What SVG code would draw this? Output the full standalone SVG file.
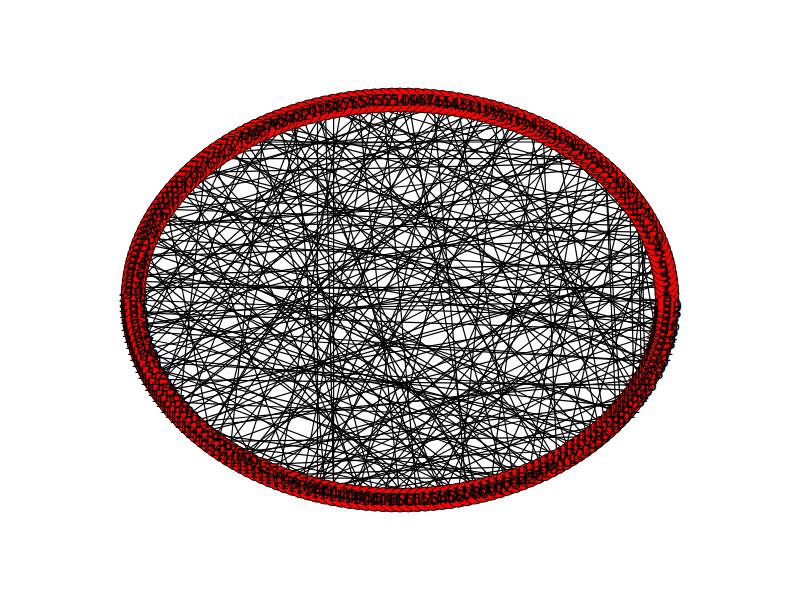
<svg xmlns="http://www.w3.org/2000/svg" width="800" height="600" viewBox="0 0 800 600">
<style>
.e line{stroke:#000;stroke-width:1.2;fill:none}
.n circle{fill:#f00;stroke:#000;stroke-width:1}
.l text{font-family:"DejaVu Sans","Liberation Sans",sans-serif;font-size:16px;fill:#000;text-anchor:middle;dominant-baseline:central}
</style>
<rect width="800" height="600" fill="#fff"/>
<g id="edges" class="e">
<line x1="667" y1="300" x2="134.2" y2="281.2"/>
<line x1="666.9" y1="293.7" x2="341.8" y2="495.2"/>
<line x1="666.5" y1="287.4" x2="333.6" y2="106.3"/>
<line x1="665.8" y1="281.2" x2="189" y2="422.6"/>
<line x1="664.9" y1="274.9" x2="651.2" y2="367.7"/>
<line x1="663.7" y1="268.7" x2="170.2" y2="401.8"/>
<line x1="662.3" y1="262.5" x2="217.2" y2="154.2"/>
<line x1="660.6" y1="256.4" x2="498.3" y2="486"/>
<line x1="658.6" y1="250.3" x2="135.1" y2="325.1"/>
<line x1="656.4" y1="244.2" x2="550.1" y2="134.6"/>
<line x1="653.9" y1="238.2" x2="286.3" y2="481"/>
<line x1="651.2" y1="232.3" x2="155" y2="220.6"/>
<line x1="648.3" y1="226.4" x2="629.8" y2="401.8"/>
<line x1="645" y1="220.6" x2="151.7" y2="373.6"/>
<line x1="641.6" y1="214.8" x2="271.4" y2="124.7"/>
<line x1="637.9" y1="209.2" x2="641.6" y2="385.2"/>
<line x1="634" y1="203.7" x2="374.9" y2="499.1"/>
<line x1="629.8" y1="198.2" x2="134.2" y2="318.8"/>
<line x1="625.4" y1="192.8" x2="563.7" y2="458"/>
<line x1="620.8" y1="187.6" x2="151.7" y2="226.4"/>
<line x1="616" y1="182.4" x2="236.3" y2="458"/>
<line x1="611" y1="177.4" x2="358.2" y2="102.5"/>
<line x1="605.7" y1="172.5" x2="146.1" y2="361.8"/>
<line x1="600.3" y1="167.7" x2="535.9" y2="472.1"/>
<line x1="594.6" y1="163.1" x2="194.3" y2="172.5"/>
<line x1="588.8" y1="158.6" x2="325.5" y2="492.1"/>
<line x1="582.8" y1="154.2" x2="133.1" y2="293.7"/>
<line x1="576.6" y1="150" x2="433.5" y2="498.4"/>
<line x1="570.2" y1="145.9" x2="184" y2="417.6"/>
<line x1="563.7" y1="142" x2="236.3" y2="142"/>
<line x1="556.9" y1="138.2" x2="605.7" y2="427.5"/>
<line x1="550.1" y1="134.6" x2="278.8" y2="478.2"/>
<line x1="543.1" y1="131.1" x2="146.1" y2="238.2"/>
<line x1="535.9" y1="127.9" x2="490.4" y2="488.2"/>
<line x1="528.6" y1="124.7" x2="174.6" y2="407.2"/>
<line x1="521.2" y1="121.8" x2="170.2" y2="198.2"/>
<line x1="513.7" y1="119" x2="309.6" y2="488.2"/>
<line x1="506" y1="116.5" x2="139.4" y2="343.6"/>
<line x1="498.3" y1="114" x2="588.8" y2="441.4"/>
<line x1="490.4" y1="111.8" x2="223.4" y2="450"/>
<line x1="482.5" y1="109.8" x2="141.4" y2="250.3"/>
<line x1="474.5" y1="107.9" x2="383.2" y2="499.6"/>
<line x1="466.4" y1="106.3" x2="133" y2="300"/>
<line x1="458.2" y1="104.8" x2="637.9" y2="390.8"/>
<line x1="450" y1="103.5" x2="264.1" y2="472.1"/>
<line x1="441.8" y1="102.5" x2="179.2" y2="187.6"/>
<line x1="433.5" y1="101.6" x2="466.4" y2="493.7"/>
<line x1="425.1" y1="100.9" x2="158.4" y2="385.2"/>
<line x1="416.8" y1="100.4" x2="665.8" y2="318.8"/>
<line x1="408.4" y1="100.1" x2="205.4" y2="436.9"/>
<line x1="400" y1="100" x2="506" y2="483.5"/>
<line x1="391.6" y1="100.1" x2="143.6" y2="355.8"/>
<line x1="383.2" y1="100.4" x2="416.8" y2="499.6"/>
<line x1="374.9" y1="100.9" x2="133.1" y2="306.3"/>
<line x1="366.5" y1="101.6" x2="660.6" y2="343.6"/>
<line x1="358.2" y1="102.5" x2="243.1" y2="461.8"/>
<line x1="350" y1="103.5" x2="662.3" y2="262.5"/>
<line x1="341.8" y1="104.8" x2="556.9" y2="461.8"/>
<line x1="333.6" y1="106.3" x2="166" y2="396.3"/>
<line x1="325.5" y1="107.9" x2="333.6" y2="493.7"/>
<line x1="317.5" y1="109.8" x2="620.8" y2="187.6"/>
<line x1="309.6" y1="111.8" x2="616" y2="417.6"/>
<line x1="301.7" y1="114" x2="217.2" y2="445.8"/>
<line x1="294" y1="116.5" x2="133.5" y2="287.4"/>
<line x1="286.3" y1="119" x2="474.5" y2="492.1"/>
<line x1="278.8" y1="121.8" x2="136.3" y2="331.3"/>
<line x1="271.4" y1="124.7" x2="656.4" y2="355.8"/>
<line x1="264.1" y1="127.9" x2="648.3" y2="226.4"/>
<line x1="256.9" y1="131.1" x2="358.2" y2="497.5"/>
<line x1="249.9" y1="134.6" x2="162.1" y2="390.8"/>
<line x1="243.1" y1="138.2" x2="588.8" y2="158.6"/>
<line x1="236.3" y1="142" x2="513.7" y2="481"/>
<line x1="229.8" y1="145.9" x2="141.4" y2="349.7"/>
<line x1="223.4" y1="150" x2="648.3" y2="373.6"/>
<line x1="217.2" y1="154.2" x2="521.2" y2="121.8"/>
<line x1="211.2" y1="158.6" x2="366.5" y2="498.4"/>
<line x1="205.4" y1="163.1" x2="179.2" y2="412.4"/>
<line x1="199.7" y1="167.7" x2="666.5" y2="287.4"/>
<line x1="194.3" y1="172.5" x2="570.2" y2="454.1"/>
<line x1="189" y1="177.4" x2="294" y2="483.5"/>
<line x1="184" y1="182.4" x2="450" y2="103.5"/>
<line x1="179.2" y1="187.6" x2="450" y2="496.5"/>
<line x1="174.6" y1="192.8" x2="653.9" y2="238.2"/>
<line x1="170.2" y1="198.2" x2="663.7" y2="331.3"/>
<line x1="166" y1="203.7" x2="211.2" y2="441.4"/>
<line x1="162.1" y1="209.2" x2="600.3" y2="167.7"/>
<line x1="158.4" y1="214.8" x2="600.3" y2="432.3"/>
<line x1="155" y1="220.6" x2="400" y2="500"/>
<line x1="151.7" y1="226.4" x2="506" y2="116.5"/>
<line x1="148.8" y1="232.3" x2="543.1" y2="468.9"/>
<line x1="146.1" y1="238.2" x2="664.9" y2="274.9"/>
<line x1="143.6" y1="244.2" x2="256.9" y2="468.9"/>
<line x1="141.4" y1="250.3" x2="620.8" y2="412.4"/>
<line x1="139.4" y1="256.4" x2="629.8" y2="198.2"/>
<line x1="137.7" y1="262.5" x2="425.1" y2="499.1"/>
<line x1="136.3" y1="268.7" x2="425.1" y2="100.9"/>
<line x1="135.1" y1="274.9" x2="664.9" y2="325.1"/>
<line x1="134.2" y1="281.2" x2="563.7" y2="142"/>
<line x1="133.5" y1="287.4" x2="482.5" y2="490.2"/>
<line x1="133.1" y1="293.7" x2="641.6" y2="214.8"/>
<line x1="133" y1="300" x2="582.8" y2="445.8"/>
<line x1="133.1" y1="306.3" x2="490.4" y2="111.8"/>
<line x1="133.5" y1="312.6" x2="667" y2="300"/>
<line x1="134.2" y1="318.8" x2="528.6" y2="475.3"/>
<line x1="135.1" y1="325.1" x2="383.2" y2="100.4"/>
<line x1="136.3" y1="331.3" x2="653.9" y2="361.8"/>
<line x1="137.7" y1="337.5" x2="576.6" y2="150"/>
<line x1="139.4" y1="343.6" x2="391.6" y2="499.9"/>
<line x1="141.4" y1="349.7" x2="658.6" y2="250.3"/>
<line x1="143.6" y1="355.8" x2="625.4" y2="407.2"/>
<line x1="146.1" y1="361.8" x2="474.5" y2="107.9"/>
<line x1="148.8" y1="367.7" x2="550.1" y2="465.4"/>
<line x1="151.7" y1="373.6" x2="611" y2="177.4"/>
<line x1="155" y1="379.4" x2="458.2" y2="495.2"/>
<line x1="158.4" y1="385.2" x2="325.5" y2="107.9"/>
<line x1="162.1" y1="390.8" x2="666.9" y2="306.3"/>
<line x1="166" y1="396.3" x2="535.9" y2="127.9"/>
<line x1="170.2" y1="401.8" x2="611" y2="422.6"/>
<line x1="174.6" y1="407.2" x2="663.7" y2="268.7"/>
<line x1="179.2" y1="412.4" x2="350" y2="496.5"/>
<line x1="184" y1="417.6" x2="301.7" y2="114"/>
<line x1="189" y1="422.6" x2="645" y2="379.4"/>
<line x1="194.3" y1="427.5" x2="634" y2="203.7"/>
<line x1="199.7" y1="432.3" x2="521.2" y2="478.2"/>
<line x1="205.4" y1="436.9" x2="400" y2="100"/>
<line x1="211.2" y1="441.4" x2="594.6" y2="436.9"/>
<line x1="217.2" y1="445.8" x2="665.8" y2="281.2"/>
<line x1="223.4" y1="450" x2="441.8" y2="497.5"/>
<line x1="229.8" y1="454.1" x2="264.1" y2="127.9"/>
<line x1="236.3" y1="458" x2="658.6" y2="349.7"/>
<line x1="243.1" y1="461.8" x2="570.2" y2="145.9"/>
<line x1="249.9" y1="465.4" x2="576.6" y2="450"/>
<line x1="256.9" y1="468.9" x2="433.5" y2="101.6"/>
<line x1="264.1" y1="472.1" x2="651.2" y2="232.3"/>
<line x1="271.4" y1="475.3" x2="634" y2="396.3"/>
<line x1="278.8" y1="478.2" x2="341.8" y2="104.8"/>
<line x1="286.3" y1="481" x2="666.9" y2="293.7"/>
<line x1="294" y1="483.5" x2="666.5" y2="312.6"/>
<line x1="301.7" y1="486" x2="466.4" y2="106.3"/>
<line x1="309.6" y1="488.2" x2="637.9" y2="209.2"/>
<line x1="317.5" y1="490.2" x2="620.8" y2="412.4"/>
<line x1="325.5" y1="492.1" x2="294" y2="116.5"/>
<line x1="333.6" y1="493.7" x2="656.4" y2="244.2"/>
<line x1="341.8" y1="495.2" x2="556.9" y2="461.8"/>
<line x1="350" y1="496.5" x2="513.7" y2="119"/>
<line x1="358.2" y1="497.5" x2="662.3" y2="337.5"/>
<line x1="366.5" y1="498.4" x2="616" y2="182.4"/>
<line x1="374.9" y1="499.1" x2="278.8" y2="121.8"/>
<line x1="383.2" y1="499.6" x2="660.6" y2="256.4"/>
<line x1="391.6" y1="499.9" x2="641.6" y2="385.2"/>
<line x1="400" y1="500" x2="556.9" y2="138.2"/>
<line x1="408.4" y1="499.9" x2="166" y2="203.7"/>
<line x1="416.8" y1="499.6" x2="645" y2="220.6"/>
<line x1="425.1" y1="499.1" x2="317.5" y2="109.8"/>
<line x1="433.5" y1="498.4" x2="135.1" y2="274.9"/>
<line x1="441.8" y1="497.5" x2="594.6" y2="163.1"/>
<line x1="450" y1="496.5" x2="229.8" y2="145.9"/>
<line x1="458.2" y1="495.2" x2="498.3" y2="114"/>
<line x1="466.4" y1="493.7" x2="137.7" y2="337.5"/>
<line x1="474.5" y1="492.1" x2="408.4" y2="100.1"/>
<line x1="482.5" y1="490.2" x2="148.8" y2="232.3"/>
<line x1="490.4" y1="488.2" x2="625.4" y2="192.8"/>
<line x1="498.3" y1="486" x2="205.4" y2="163.1"/>
<line x1="506" y1="483.5" x2="148.8" y2="367.7"/>
<line x1="513.7" y1="481" x2="458.2" y2="104.8"/>
<line x1="521.2" y1="478.2" x2="139.4" y2="256.4"/>
<line x1="528.6" y1="475.3" x2="582.8" y2="154.2"/>
<line x1="535.9" y1="472.1" x2="189" y2="177.4"/>
<line x1="543.1" y1="468.9" x2="374.9" y2="100.9"/>
<line x1="550.1" y1="465.4" x2="271.4" y2="475.3"/>
<line x1="556.9" y1="461.8" x2="543.1" y2="131.1"/>
<line x1="563.7" y1="458" x2="136.3" y2="268.7"/>
<line x1="570.2" y1="454.1" x2="441.8" y2="102.5"/>
<line x1="576.6" y1="450" x2="162.1" y2="209.2"/>
<line x1="582.8" y1="445.8" x2="651.2" y2="232.3"/>
<line x1="588.8" y1="441.4" x2="309.6" y2="111.8"/>
<line x1="594.6" y1="436.9" x2="133.5" y2="312.6"/>
<line x1="600.3" y1="432.3" x2="528.6" y2="124.7"/>
<line x1="605.7" y1="427.5" x2="256.9" y2="131.1"/>
<line x1="611" y1="422.6" x2="317.5" y2="490.2"/>
<line x1="616" y1="417.6" x2="605.7" y2="172.5"/>
<line x1="620.8" y1="412.4" x2="137.7" y2="262.5"/>
<line x1="625.4" y1="407.2" x2="350" y2="103.5"/>
<line x1="629.8" y1="401.8" x2="229.8" y2="454.1"/>
<line x1="634" y1="396.3" x2="482.5" y2="109.8"/>
<line x1="637.9" y1="390.8" x2="223.4" y2="150"/>
<line x1="641.6" y1="385.2" x2="155" y2="379.4"/>
<line x1="645" y1="379.4" x2="416.8" y2="100.4"/>
<line x1="648.3" y1="373.6" x2="194.3" y2="427.5"/>
<line x1="651.2" y1="367.7" x2="286.3" y2="119"/>
<line x1="653.9" y1="361.8" x2="174.6" y2="192.8"/>
<line x1="656.4" y1="355.8" x2="301.7" y2="486"/>
<line x1="658.6" y1="349.7" x2="634" y2="203.7"/>
<line x1="660.6" y1="343.6" x2="143.6" y2="244.2"/>
<line x1="662.3" y1="337.5" x2="333.6" y2="106.3"/>
<line x1="663.7" y1="331.3" x2="249.9" y2="465.4"/>
<line x1="664.9" y1="325.1" x2="249.9" y2="134.6"/>
<line x1="665.8" y1="318.8" x2="199.7" y2="432.3"/>
<line x1="666.5" y1="312.6" x2="199.7" y2="167.7"/>
<line x1="666.9" y1="306.3" x2="158.4" y2="214.8"/>
<line x1="665.8" y1="281.2" x2="135.1" y2="325.1"/>
<line x1="658.6" y1="250.3" x2="664.9" y2="325.1"/>
<line x1="641.6" y1="214.8" x2="645" y2="379.4"/>
<line x1="629.8" y1="198.2" x2="634" y2="396.3"/>
<line x1="605.7" y1="172.5" x2="620.8" y2="412.4"/>
<line x1="133" y1="300" x2="665.8" y2="318.8"/>
<line x1="133.5" y1="312.6" x2="663.7" y2="331.3"/>
<line x1="133.5" y1="287.4" x2="666.5" y2="287.4"/>
<line x1="135.1" y1="325.1" x2="653.9" y2="361.8"/>
<line x1="135.1" y1="274.9" x2="662.3" y2="262.5"/>
<line x1="229.8" y1="145.9" x2="556.9" y2="138.2"/>
<line x1="211.2" y1="158.6" x2="588.8" y2="158.6"/>
<line x1="243.1" y1="138.2" x2="482.5" y2="490.2"/>
<line x1="317.5" y1="490.2" x2="400" y2="100"/>
<line x1="358.2" y1="497.5" x2="441.8" y2="102.5"/>
<line x1="400" y1="500" x2="358.2" y2="102.5"/>
<line x1="317.5" y1="109.8" x2="317.5" y2="490.2"/>
<line x1="162.1" y1="209.2" x2="648.3" y2="226.4"/>
<line x1="146.1" y1="238.2" x2="588.8" y2="441.4"/>
<line x1="146.1" y1="361.8" x2="637.9" y2="390.8"/>
<line x1="162.1" y1="390.8" x2="616" y2="182.4"/>
<line x1="184" y1="417.6" x2="653.9" y2="238.2"/>
<line x1="243.1" y1="461.8" x2="521.2" y2="121.8"/>
<line x1="278.8" y1="478.2" x2="521.2" y2="478.2"/>
<line x1="271.4" y1="124.7" x2="556.9" y2="461.8"/>
<line x1="301.7" y1="114" x2="441.8" y2="497.5"/>
<line x1="450" y1="103.5" x2="211.2" y2="441.4"/>
<line x1="482.5" y1="109.8" x2="317.5" y2="490.2"/>
<line x1="184" y1="182.4" x2="653.9" y2="361.8"/>
<line x1="151.7" y1="226.4" x2="625.4" y2="192.8"/>
<line x1="139.4" y1="256.4" x2="653.9" y2="238.2"/>
<line x1="133.1" y1="306.3" x2="556.9" y2="461.8"/>
<line x1="137.7" y1="337.5" x2="605.7" y2="427.5"/>
<line x1="151.7" y1="373.6" x2="563.7" y2="142"/>
<line x1="174.6" y1="407.2" x2="513.7" y2="119"/>
<line x1="217.2" y1="445.8" x2="521.2" y2="478.2"/>
<line x1="301.7" y1="486" x2="374.9" y2="100.9"/>
<line x1="333.6" y1="493.7" x2="333.6" y2="106.3"/>
<line x1="458.2" y1="495.2" x2="194.3" y2="172.5"/>
<line x1="528.6" y1="475.3" x2="158.4" y2="214.8"/>
</g>
<g id="nodes" class="n">
<g id="n0"><circle cx="667" cy="300" r="12"/></g>
<g id="n1"><circle cx="666.9" cy="293.7" r="12"/></g>
<g id="n2"><circle cx="666.5" cy="287.4" r="12"/></g>
<g id="n3"><circle cx="665.8" cy="281.2" r="12"/></g>
<g id="n4"><circle cx="664.9" cy="274.9" r="12"/></g>
<g id="n5"><circle cx="663.7" cy="268.7" r="12"/></g>
<g id="n6"><circle cx="662.3" cy="262.5" r="12"/></g>
<g id="n7"><circle cx="660.6" cy="256.4" r="12"/></g>
<g id="n8"><circle cx="658.6" cy="250.3" r="12"/></g>
<g id="n9"><circle cx="656.4" cy="244.2" r="12"/></g>
<g id="n10"><circle cx="653.9" cy="238.2" r="12"/></g>
<g id="n11"><circle cx="651.2" cy="232.3" r="12"/></g>
<g id="n12"><circle cx="648.3" cy="226.4" r="12"/></g>
<g id="n13"><circle cx="645" cy="220.6" r="12"/></g>
<g id="n14"><circle cx="641.6" cy="214.8" r="12"/></g>
<g id="n15"><circle cx="637.9" cy="209.2" r="12"/></g>
<g id="n16"><circle cx="634" cy="203.7" r="12"/></g>
<g id="n17"><circle cx="629.8" cy="198.2" r="12"/></g>
<g id="n18"><circle cx="625.4" cy="192.8" r="12"/></g>
<g id="n19"><circle cx="620.8" cy="187.6" r="12"/></g>
<g id="n20"><circle cx="616" cy="182.4" r="12"/></g>
<g id="n21"><circle cx="611" cy="177.4" r="12"/></g>
<g id="n22"><circle cx="605.7" cy="172.5" r="12"/></g>
<g id="n23"><circle cx="600.3" cy="167.7" r="12"/></g>
<g id="n24"><circle cx="594.6" cy="163.1" r="12"/></g>
<g id="n25"><circle cx="588.8" cy="158.6" r="12"/></g>
<g id="n26"><circle cx="582.8" cy="154.2" r="12"/></g>
<g id="n27"><circle cx="576.6" cy="150" r="12"/></g>
<g id="n28"><circle cx="570.2" cy="145.9" r="12"/></g>
<g id="n29"><circle cx="563.7" cy="142" r="12"/></g>
<g id="n30"><circle cx="556.9" cy="138.2" r="12"/></g>
<g id="n31"><circle cx="550.1" cy="134.6" r="12"/></g>
<g id="n32"><circle cx="543.1" cy="131.1" r="12"/></g>
<g id="n33"><circle cx="535.9" cy="127.9" r="12"/></g>
<g id="n34"><circle cx="528.6" cy="124.7" r="12"/></g>
<g id="n35"><circle cx="521.2" cy="121.8" r="12"/></g>
<g id="n36"><circle cx="513.7" cy="119" r="12"/></g>
<g id="n37"><circle cx="506" cy="116.5" r="12"/></g>
<g id="n38"><circle cx="498.3" cy="114" r="12"/></g>
<g id="n39"><circle cx="490.4" cy="111.8" r="12"/></g>
<g id="n40"><circle cx="482.5" cy="109.8" r="12"/></g>
<g id="n41"><circle cx="474.5" cy="107.9" r="12"/></g>
<g id="n42"><circle cx="466.4" cy="106.3" r="12"/></g>
<g id="n43"><circle cx="458.2" cy="104.8" r="12"/></g>
<g id="n44"><circle cx="450" cy="103.5" r="12"/></g>
<g id="n45"><circle cx="441.8" cy="102.5" r="12"/></g>
<g id="n46"><circle cx="433.5" cy="101.6" r="12"/></g>
<g id="n47"><circle cx="425.1" cy="100.9" r="12"/></g>
<g id="n48"><circle cx="416.8" cy="100.4" r="12"/></g>
<g id="n49"><circle cx="408.4" cy="100.1" r="12"/></g>
<g id="n50"><circle cx="400" cy="100" r="12"/></g>
<g id="n51"><circle cx="391.6" cy="100.1" r="12"/></g>
<g id="n52"><circle cx="383.2" cy="100.4" r="12"/></g>
<g id="n53"><circle cx="374.9" cy="100.9" r="12"/></g>
<g id="n54"><circle cx="366.5" cy="101.6" r="12"/></g>
<g id="n55"><circle cx="358.2" cy="102.5" r="12"/></g>
<g id="n56"><circle cx="350" cy="103.5" r="12"/></g>
<g id="n57"><circle cx="341.8" cy="104.8" r="12"/></g>
<g id="n58"><circle cx="333.6" cy="106.3" r="12"/></g>
<g id="n59"><circle cx="325.5" cy="107.9" r="12"/></g>
<g id="n60"><circle cx="317.5" cy="109.8" r="12"/></g>
<g id="n61"><circle cx="309.6" cy="111.8" r="12"/></g>
<g id="n62"><circle cx="301.7" cy="114" r="12"/></g>
<g id="n63"><circle cx="294" cy="116.5" r="12"/></g>
<g id="n64"><circle cx="286.3" cy="119" r="12"/></g>
<g id="n65"><circle cx="278.8" cy="121.8" r="12"/></g>
<g id="n66"><circle cx="271.4" cy="124.7" r="12"/></g>
<g id="n67"><circle cx="264.1" cy="127.9" r="12"/></g>
<g id="n68"><circle cx="256.9" cy="131.1" r="12"/></g>
<g id="n69"><circle cx="249.9" cy="134.6" r="12"/></g>
<g id="n70"><circle cx="243.1" cy="138.2" r="12"/></g>
<g id="n71"><circle cx="236.3" cy="142" r="12"/></g>
<g id="n72"><circle cx="229.8" cy="145.9" r="12"/></g>
<g id="n73"><circle cx="223.4" cy="150" r="12"/></g>
<g id="n74"><circle cx="217.2" cy="154.2" r="12"/></g>
<g id="n75"><circle cx="211.2" cy="158.6" r="12"/></g>
<g id="n76"><circle cx="205.4" cy="163.1" r="12"/></g>
<g id="n77"><circle cx="199.7" cy="167.7" r="12"/></g>
<g id="n78"><circle cx="194.3" cy="172.5" r="12"/></g>
<g id="n79"><circle cx="189" cy="177.4" r="12"/></g>
<g id="n80"><circle cx="184" cy="182.4" r="12"/></g>
<g id="n81"><circle cx="179.2" cy="187.6" r="12"/></g>
<g id="n82"><circle cx="174.6" cy="192.8" r="12"/></g>
<g id="n83"><circle cx="170.2" cy="198.2" r="12"/></g>
<g id="n84"><circle cx="166" cy="203.7" r="12"/></g>
<g id="n85"><circle cx="162.1" cy="209.2" r="12"/></g>
<g id="n86"><circle cx="158.4" cy="214.8" r="12"/></g>
<g id="n87"><circle cx="155" cy="220.6" r="12"/></g>
<g id="n88"><circle cx="151.7" cy="226.4" r="12"/></g>
<g id="n89"><circle cx="148.8" cy="232.3" r="12"/></g>
<g id="n90"><circle cx="146.1" cy="238.2" r="12"/></g>
<g id="n91"><circle cx="143.6" cy="244.2" r="12"/></g>
<g id="n92"><circle cx="141.4" cy="250.3" r="12"/></g>
<g id="n93"><circle cx="139.4" cy="256.4" r="12"/></g>
<g id="n94"><circle cx="137.7" cy="262.5" r="12"/></g>
<g id="n95"><circle cx="136.3" cy="268.7" r="12"/></g>
<g id="n96"><circle cx="135.1" cy="274.9" r="12"/></g>
<g id="n97"><circle cx="134.2" cy="281.2" r="12"/></g>
<g id="n98"><circle cx="133.5" cy="287.4" r="12"/></g>
<g id="n99"><circle cx="133.1" cy="293.7" r="12"/></g>
<g id="n100"><circle cx="133" cy="300" r="12"/></g>
<g id="n101"><circle cx="133.1" cy="306.3" r="12"/></g>
<g id="n102"><circle cx="133.5" cy="312.6" r="12"/></g>
<g id="n103"><circle cx="134.2" cy="318.8" r="12"/></g>
<g id="n104"><circle cx="135.1" cy="325.1" r="12"/></g>
<g id="n105"><circle cx="136.3" cy="331.3" r="12"/></g>
<g id="n106"><circle cx="137.7" cy="337.5" r="12"/></g>
<g id="n107"><circle cx="139.4" cy="343.6" r="12"/></g>
<g id="n108"><circle cx="141.4" cy="349.7" r="12"/></g>
<g id="n109"><circle cx="143.6" cy="355.8" r="12"/></g>
<g id="n110"><circle cx="146.1" cy="361.8" r="12"/></g>
<g id="n111"><circle cx="148.8" cy="367.7" r="12"/></g>
<g id="n112"><circle cx="151.7" cy="373.6" r="12"/></g>
<g id="n113"><circle cx="155" cy="379.4" r="12"/></g>
<g id="n114"><circle cx="158.4" cy="385.2" r="12"/></g>
<g id="n115"><circle cx="162.1" cy="390.8" r="12"/></g>
<g id="n116"><circle cx="166" cy="396.3" r="12"/></g>
<g id="n117"><circle cx="170.2" cy="401.8" r="12"/></g>
<g id="n118"><circle cx="174.6" cy="407.2" r="12"/></g>
<g id="n119"><circle cx="179.2" cy="412.4" r="12"/></g>
<g id="n120"><circle cx="184" cy="417.6" r="12"/></g>
<g id="n121"><circle cx="189" cy="422.6" r="12"/></g>
<g id="n122"><circle cx="194.3" cy="427.5" r="12"/></g>
<g id="n123"><circle cx="199.7" cy="432.3" r="12"/></g>
<g id="n124"><circle cx="205.4" cy="436.9" r="12"/></g>
<g id="n125"><circle cx="211.2" cy="441.4" r="12"/></g>
<g id="n126"><circle cx="217.2" cy="445.8" r="12"/></g>
<g id="n127"><circle cx="223.4" cy="450" r="12"/></g>
<g id="n128"><circle cx="229.8" cy="454.1" r="12"/></g>
<g id="n129"><circle cx="236.3" cy="458" r="12"/></g>
<g id="n130"><circle cx="243.1" cy="461.8" r="12"/></g>
<g id="n131"><circle cx="249.9" cy="465.4" r="12"/></g>
<g id="n132"><circle cx="256.9" cy="468.9" r="12"/></g>
<g id="n133"><circle cx="264.1" cy="472.1" r="12"/></g>
<g id="n134"><circle cx="271.4" cy="475.3" r="12"/></g>
<g id="n135"><circle cx="278.8" cy="478.2" r="12"/></g>
<g id="n136"><circle cx="286.3" cy="481" r="12"/></g>
<g id="n137"><circle cx="294" cy="483.5" r="12"/></g>
<g id="n138"><circle cx="301.7" cy="486" r="12"/></g>
<g id="n139"><circle cx="309.6" cy="488.2" r="12"/></g>
<g id="n140"><circle cx="317.5" cy="490.2" r="12"/></g>
<g id="n141"><circle cx="325.5" cy="492.1" r="12"/></g>
<g id="n142"><circle cx="333.6" cy="493.7" r="12"/></g>
<g id="n143"><circle cx="341.8" cy="495.2" r="12"/></g>
<g id="n144"><circle cx="350" cy="496.5" r="12"/></g>
<g id="n145"><circle cx="358.2" cy="497.5" r="12"/></g>
<g id="n146"><circle cx="366.5" cy="498.4" r="12"/></g>
<g id="n147"><circle cx="374.9" cy="499.1" r="12"/></g>
<g id="n148"><circle cx="383.2" cy="499.6" r="12"/></g>
<g id="n149"><circle cx="391.6" cy="499.9" r="12"/></g>
<g id="n150"><circle cx="400" cy="500" r="12"/></g>
<g id="n151"><circle cx="408.4" cy="499.9" r="12"/></g>
<g id="n152"><circle cx="416.8" cy="499.6" r="12"/></g>
<g id="n153"><circle cx="425.1" cy="499.1" r="12"/></g>
<g id="n154"><circle cx="433.5" cy="498.4" r="12"/></g>
<g id="n155"><circle cx="441.8" cy="497.5" r="12"/></g>
<g id="n156"><circle cx="450" cy="496.5" r="12"/></g>
<g id="n157"><circle cx="458.2" cy="495.2" r="12"/></g>
<g id="n158"><circle cx="466.4" cy="493.7" r="12"/></g>
<g id="n159"><circle cx="474.5" cy="492.1" r="12"/></g>
<g id="n160"><circle cx="482.5" cy="490.2" r="12"/></g>
<g id="n161"><circle cx="490.4" cy="488.2" r="12"/></g>
<g id="n162"><circle cx="498.3" cy="486" r="12"/></g>
<g id="n163"><circle cx="506" cy="483.5" r="12"/></g>
<g id="n164"><circle cx="513.7" cy="481" r="12"/></g>
<g id="n165"><circle cx="521.2" cy="478.2" r="12"/></g>
<g id="n166"><circle cx="528.6" cy="475.3" r="12"/></g>
<g id="n167"><circle cx="535.9" cy="472.1" r="12"/></g>
<g id="n168"><circle cx="543.1" cy="468.9" r="12"/></g>
<g id="n169"><circle cx="550.1" cy="465.4" r="12"/></g>
<g id="n170"><circle cx="556.9" cy="461.8" r="12"/></g>
<g id="n171"><circle cx="563.7" cy="458" r="12"/></g>
<g id="n172"><circle cx="570.2" cy="454.1" r="12"/></g>
<g id="n173"><circle cx="576.6" cy="450" r="12"/></g>
<g id="n174"><circle cx="582.8" cy="445.8" r="12"/></g>
<g id="n175"><circle cx="588.8" cy="441.4" r="12"/></g>
<g id="n176"><circle cx="594.6" cy="436.9" r="12"/></g>
<g id="n177"><circle cx="600.3" cy="432.3" r="12"/></g>
<g id="n178"><circle cx="605.7" cy="427.5" r="12"/></g>
<g id="n179"><circle cx="611" cy="422.6" r="12"/></g>
<g id="n180"><circle cx="616" cy="417.6" r="12"/></g>
<g id="n181"><circle cx="620.8" cy="412.4" r="12"/></g>
<g id="n182"><circle cx="625.4" cy="407.2" r="12"/></g>
<g id="n183"><circle cx="629.8" cy="401.8" r="12"/></g>
<g id="n184"><circle cx="634" cy="396.3" r="12"/></g>
<g id="n185"><circle cx="637.9" cy="390.8" r="12"/></g>
<g id="n186"><circle cx="641.6" cy="385.2" r="12"/></g>
<g id="n187"><circle cx="645" cy="379.4" r="12"/></g>
<g id="n188"><circle cx="648.3" cy="373.6" r="12"/></g>
<g id="n189"><circle cx="651.2" cy="367.7" r="12"/></g>
<g id="n190"><circle cx="653.9" cy="361.8" r="12"/></g>
<g id="n191"><circle cx="656.4" cy="355.8" r="12"/></g>
<g id="n192"><circle cx="658.6" cy="349.7" r="12"/></g>
<g id="n193"><circle cx="660.6" cy="343.6" r="12"/></g>
<g id="n194"><circle cx="662.3" cy="337.5" r="12"/></g>
<g id="n195"><circle cx="663.7" cy="331.3" r="12"/></g>
<g id="n196"><circle cx="664.9" cy="325.1" r="12"/></g>
<g id="n197"><circle cx="665.8" cy="318.8" r="12"/></g>
<g id="n198"><circle cx="666.5" cy="312.6" r="12"/></g>
<g id="n199"><circle cx="666.9" cy="306.3" r="12"/></g>
</g>
<g id="labels" class="l">
<text x="667" y="300">0</text>
<text x="666.9" y="293.7">1</text>
<text x="666.5" y="287.4">2</text>
<text x="665.8" y="281.2">3</text>
<text x="664.9" y="274.9">4</text>
<text x="663.7" y="268.7">5</text>
<text x="662.3" y="262.5">6</text>
<text x="660.6" y="256.4">7</text>
<text x="658.6" y="250.3">8</text>
<text x="656.4" y="244.2">9</text>
<text x="653.9" y="238.2">10</text>
<text x="651.2" y="232.3">11</text>
<text x="648.3" y="226.4">12</text>
<text x="645" y="220.6">13</text>
<text x="641.6" y="214.8">14</text>
<text x="637.9" y="209.2">15</text>
<text x="634" y="203.7">16</text>
<text x="629.8" y="198.2">17</text>
<text x="625.4" y="192.8">18</text>
<text x="620.8" y="187.6">19</text>
<text x="616" y="182.4">20</text>
<text x="611" y="177.4">21</text>
<text x="605.7" y="172.5">22</text>
<text x="600.3" y="167.7">23</text>
<text x="594.6" y="163.1">24</text>
<text x="588.8" y="158.6">25</text>
<text x="582.8" y="154.2">26</text>
<text x="576.6" y="150">27</text>
<text x="570.2" y="145.9">28</text>
<text x="563.7" y="142">29</text>
<text x="556.9" y="138.2">30</text>
<text x="550.1" y="134.6">31</text>
<text x="543.1" y="131.1">32</text>
<text x="535.9" y="127.9">33</text>
<text x="528.6" y="124.7">34</text>
<text x="521.2" y="121.8">35</text>
<text x="513.7" y="119">36</text>
<text x="506" y="116.5">37</text>
<text x="498.3" y="114">38</text>
<text x="490.4" y="111.8">39</text>
<text x="482.5" y="109.8">40</text>
<text x="474.5" y="107.9">41</text>
<text x="466.4" y="106.3">42</text>
<text x="458.2" y="104.8">43</text>
<text x="450" y="103.5">44</text>
<text x="441.8" y="102.5">45</text>
<text x="433.5" y="101.6">46</text>
<text x="425.1" y="100.9">47</text>
<text x="416.8" y="100.4">48</text>
<text x="408.4" y="100.1">49</text>
<text x="400" y="100">50</text>
<text x="391.6" y="100.1">51</text>
<text x="383.2" y="100.4">52</text>
<text x="374.9" y="100.9">53</text>
<text x="366.5" y="101.6">54</text>
<text x="358.2" y="102.5">55</text>
<text x="350" y="103.5">56</text>
<text x="341.8" y="104.8">57</text>
<text x="333.6" y="106.3">58</text>
<text x="325.5" y="107.9">59</text>
<text x="317.5" y="109.8">60</text>
<text x="309.6" y="111.8">61</text>
<text x="301.7" y="114">62</text>
<text x="294" y="116.5">63</text>
<text x="286.3" y="119">64</text>
<text x="278.8" y="121.8">65</text>
<text x="271.4" y="124.7">66</text>
<text x="264.1" y="127.9">67</text>
<text x="256.9" y="131.1">68</text>
<text x="249.9" y="134.6">69</text>
<text x="243.1" y="138.2">70</text>
<text x="236.3" y="142">71</text>
<text x="229.8" y="145.9">72</text>
<text x="223.4" y="150">73</text>
<text x="217.2" y="154.2">74</text>
<text x="211.2" y="158.6">75</text>
<text x="205.4" y="163.1">76</text>
<text x="199.7" y="167.7">77</text>
<text x="194.3" y="172.5">78</text>
<text x="189" y="177.4">79</text>
<text x="184" y="182.4">80</text>
<text x="179.2" y="187.6">81</text>
<text x="174.6" y="192.8">82</text>
<text x="170.2" y="198.2">83</text>
<text x="166" y="203.7">84</text>
<text x="162.1" y="209.2">85</text>
<text x="158.4" y="214.8">86</text>
<text x="155" y="220.6">87</text>
<text x="151.7" y="226.4">88</text>
<text x="148.8" y="232.3">89</text>
<text x="146.1" y="238.2">90</text>
<text x="143.6" y="244.2">91</text>
<text x="141.4" y="250.3">92</text>
<text x="139.4" y="256.4">93</text>
<text x="137.7" y="262.5">94</text>
<text x="136.3" y="268.7">95</text>
<text x="135.1" y="274.9">96</text>
<text x="134.2" y="281.2">97</text>
<text x="133.5" y="287.4">98</text>
<text x="133.1" y="293.7">99</text>
<text x="133" y="300">100</text>
<text x="133.1" y="306.3">101</text>
<text x="133.5" y="312.6">102</text>
<text x="134.2" y="318.8">103</text>
<text x="135.1" y="325.1">104</text>
<text x="136.3" y="331.3">105</text>
<text x="137.7" y="337.5">106</text>
<text x="139.4" y="343.6">107</text>
<text x="141.4" y="349.7">108</text>
<text x="143.6" y="355.8">109</text>
<text x="146.1" y="361.8">110</text>
<text x="148.8" y="367.7">111</text>
<text x="151.7" y="373.6">112</text>
<text x="155" y="379.4">113</text>
<text x="158.4" y="385.2">114</text>
<text x="162.1" y="390.8">115</text>
<text x="166" y="396.3">116</text>
<text x="170.2" y="401.8">117</text>
<text x="174.6" y="407.2">118</text>
<text x="179.2" y="412.4">119</text>
<text x="184" y="417.6">120</text>
<text x="189" y="422.6">121</text>
<text x="194.3" y="427.5">122</text>
<text x="199.7" y="432.3">123</text>
<text x="205.4" y="436.9">124</text>
<text x="211.2" y="441.4">125</text>
<text x="217.2" y="445.8">126</text>
<text x="223.4" y="450">127</text>
<text x="229.8" y="454.1">128</text>
<text x="236.3" y="458">129</text>
<text x="243.1" y="461.8">130</text>
<text x="249.9" y="465.4">131</text>
<text x="256.9" y="468.9">132</text>
<text x="264.1" y="472.1">133</text>
<text x="271.4" y="475.3">134</text>
<text x="278.8" y="478.2">135</text>
<text x="286.3" y="481">136</text>
<text x="294" y="483.5">137</text>
<text x="301.7" y="486">138</text>
<text x="309.6" y="488.2">139</text>
<text x="317.5" y="490.2">140</text>
<text x="325.5" y="492.1">141</text>
<text x="333.6" y="493.7">142</text>
<text x="341.8" y="495.2">143</text>
<text x="350" y="496.5">144</text>
<text x="358.2" y="497.5">145</text>
<text x="366.5" y="498.4">146</text>
<text x="374.9" y="499.1">147</text>
<text x="383.2" y="499.6">148</text>
<text x="391.6" y="499.9">149</text>
<text x="400" y="500">150</text>
<text x="408.4" y="499.9">151</text>
<text x="416.8" y="499.6">152</text>
<text x="425.1" y="499.1">153</text>
<text x="433.5" y="498.4">154</text>
<text x="441.8" y="497.5">155</text>
<text x="450" y="496.5">156</text>
<text x="458.2" y="495.2">157</text>
<text x="466.4" y="493.7">158</text>
<text x="474.5" y="492.1">159</text>
<text x="482.5" y="490.2">160</text>
<text x="490.4" y="488.2">161</text>
<text x="498.3" y="486">162</text>
<text x="506" y="483.5">163</text>
<text x="513.7" y="481">164</text>
<text x="521.2" y="478.2">165</text>
<text x="528.6" y="475.3">166</text>
<text x="535.9" y="472.1">167</text>
<text x="543.1" y="468.9">168</text>
<text x="550.1" y="465.4">169</text>
<text x="556.9" y="461.8">170</text>
<text x="563.7" y="458">171</text>
<text x="570.2" y="454.1">172</text>
<text x="576.6" y="450">173</text>
<text x="582.8" y="445.8">174</text>
<text x="588.8" y="441.4">175</text>
<text x="594.6" y="436.9">176</text>
<text x="600.3" y="432.3">177</text>
<text x="605.7" y="427.5">178</text>
<text x="611" y="422.6">179</text>
<text x="616" y="417.6">180</text>
<text x="620.8" y="412.4">181</text>
<text x="625.4" y="407.2">182</text>
<text x="629.8" y="401.8">183</text>
<text x="634" y="396.3">184</text>
<text x="637.9" y="390.8">185</text>
<text x="641.6" y="385.2">186</text>
<text x="645" y="379.4">187</text>
<text x="648.3" y="373.6">188</text>
<text x="651.2" y="367.7">189</text>
<text x="653.9" y="361.8">190</text>
<text x="656.4" y="355.8">191</text>
<text x="658.6" y="349.7">192</text>
<text x="660.6" y="343.6">193</text>
<text x="662.3" y="337.5">194</text>
<text x="663.7" y="331.3">195</text>
<text x="664.9" y="325.1">196</text>
<text x="665.8" y="318.8">197</text>
<text x="666.5" y="312.6">198</text>
<text x="666.9" y="306.3">199</text>
</g>
</svg>
